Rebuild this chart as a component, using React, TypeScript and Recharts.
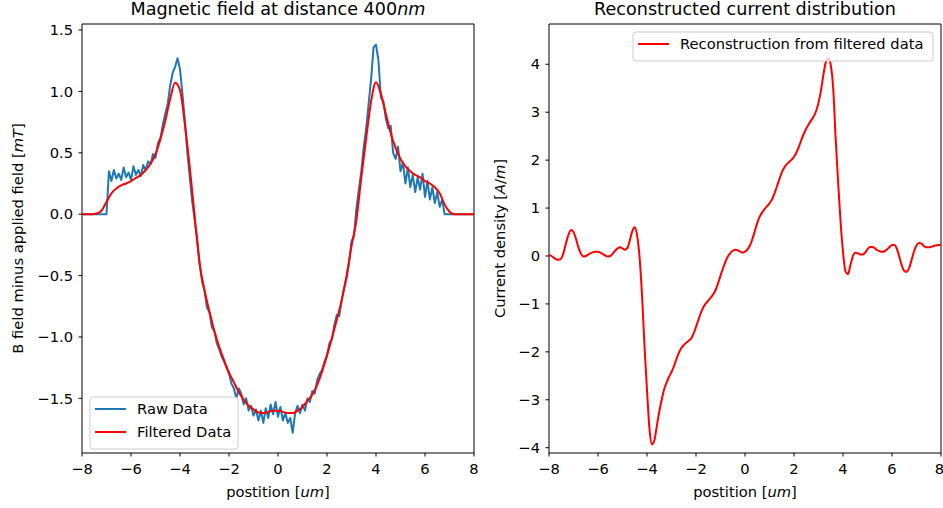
import React from "react";
import { LineChart, Line, XAxis, YAxis, ReferenceArea } from "recharts";

// Field profile and reconstructed current, both sampled on a -8..8 um grid

const FONT = "'DejaVu Sans', sans-serif";
const BLUE = "#1f77b4";
const RED = "#ff0000";
const FS = 14.7;

// raw field, 0.1 um step from -8
const rawField = [
  0, 0, 0, 0, 0, 0, 0, 0, 0, 0,
  0, 0.35, 0.27, 0.36, 0.29, 0.33, 0.28, 0.38, 0.3, 0.34,
  0.28, 0.39, 0.32, 0.36, 0.31, 0.4, 0.36, 0.43, 0.41, 0.49,
  0.46, 0.58, 0.62, 0.73, 0.82, 0.9, 1.05, 1.15, 1.2, 1.27,
  1.18, 0.98, 0.76, 0.5, 0.3, 0.1, -0.05, -0.2, -0.4, -0.55,
  -0.62, -0.76, -0.8, -0.92, -0.95, -1.05, -1.1, -1.16, -1.2, -1.25,
  -1.3, -1.38, -1.42, -1.5, -1.42, -1.46, -1.55, -1.5, -1.6, -1.56,
  -1.64, -1.59, -1.68, -1.6, -1.7, -1.58, -1.66, -1.55, -1.63, -1.53,
  -1.65, -1.57, -1.68, -1.62, -1.7, -1.66, -1.78, -1.62, -1.56, -1.62,
  -1.55, -1.6, -1.5, -1.53, -1.44, -1.46, -1.35, -1.3, -1.27, -1.2,
  -1.15, -1.05, -1.02, -0.9, -0.82, -0.83, -0.7, -0.6, -0.52, -0.4,
  -0.22, -0.18, 0.05, 0.2, 0.35, 0.55, 0.7, 0.9, 1.1, 1.36,
  1.38, 1.25, 0.95, 0.92, 0.78, 0.7, 0.72, 0.5, 0.45, 0.55,
  0.35, 0.42, 0.25, 0.38, 0.22, 0.32, 0.18, 0.3, 0.2, 0.33,
  0.14, 0.27, 0.12, 0.22, 0.09, 0.18, 0.06, 0.12, 0, 0,
  0, 0, 0, 0, 0, 0, 0, 0, 0, 0,
  0,
];

// filtered field, 0.2 um step from -8
const filteredField = [
  0, 0, 0, 0.005, 0.03, 0.1, 0.17, 0.21, 0.235, 0.25,
  0.27, 0.295, 0.32, 0.36, 0.41, 0.49, 0.61, 0.76, 0.94, 1.07,
  1.01, 0.73, 0.38, -0.02, -0.4, -0.62, -0.79, -0.95, -1.08, -1.19,
  -1.29, -1.37, -1.45, -1.51, -1.56, -1.59, -1.615, -1.62, -1.61, -1.6,
  -1.6, -1.61, -1.62, -1.62, -1.6, -1.57, -1.52, -1.47, -1.39, -1.28,
  -1.15, -1.01, -0.86, -0.7, -0.5, -0.26, -0.05, 0.3, 0.62, 0.92,
  1.075, 0.98, 0.82, 0.66, 0.54, 0.45, 0.39, 0.35, 0.32, 0.3,
  0.27, 0.25, 0.22, 0.17, 0.08, 0.02, 0, 0, 0, 0,
  0,
];

// reconstructed current density, 0.1 um step from -8
const currentDensity = [
  0.02, 0, -0.04, -0.07, -0.08, -0.05, 0.08, 0.28, 0.45, 0.54,
  0.5, 0.36, 0.18, 0.05, -0.01, 0, 0.03, 0.06, 0.08, 0.09,
  0.09, 0.07, 0.04, 0.01, -0.01, 0, 0.05, 0.11, 0.16, 0.18,
  0.16, 0.13, 0.17, 0.33, 0.52, 0.6, 0.42, -0.05, -0.85, -1.9,
  -2.8, -3.6, -3.93, -3.85, -3.55, -3.25, -3.0, -2.78, -2.64, -2.52,
  -2.42, -2.3, -2.15, -2.02, -1.92, -1.86, -1.81, -1.77, -1.72, -1.62,
  -1.48, -1.33, -1.18, -1.07, -0.99, -0.93, -0.87, -0.8, -0.71, -0.57,
  -0.41, -0.26, -0.12, -0.01, 0.06, 0.11, 0.13, 0.12, 0.09, 0.07,
  0.09, 0.14, 0.22, 0.35, 0.52, 0.69, 0.82, 0.91, 0.98, 1.04,
  1.1, 1.18, 1.3, 1.45, 1.6, 1.74, 1.84, 1.91, 1.96, 2.01,
  2.07, 2.16, 2.28, 2.42, 2.55, 2.66, 2.75, 2.83, 2.91, 3.02,
  3.2, 3.45, 3.78, 4.05, 4.13, 3.98, 3.5, 2.45, 1.55, 0.72,
  0.08, -0.32, -0.38, -0.2, -0.01, 0.07, 0.06, 0.03, 0.03, 0.07,
  0.14, 0.19, 0.19, 0.16, 0.12, 0.1, 0.09, 0.1, 0.14, 0.19,
  0.23, 0.23, 0.15, -0.02, -0.2, -0.31, -0.33, -0.25, -0.08, 0.1,
  0.22, 0.27, 0.26, 0.21, 0.18, 0.18, 0.19, 0.21, 0.22, 0.23,
  0.23,
];

const xTicks = [-8, -6, -4, -2, 0, 2, 4, 6, 8];
const fieldTicks = [-1.5, -1, -0.5, 0, 0.5, 1, 1.5];
const currentTicks = [-4, -3, -2, -1, 0, 1, 2, 3, 4];

const fieldDomain: [number, number] = [-1.945, 1.549];
const currentDomain: [number, number] = [-4.11, 4.84];

function onGrid(values: number[], step: number) {
  return values.map((y, i) => ({ x: -8 + i * step, y }));
}

const rawRows = onGrid(rawField, 0.1);
const filteredRows = onGrid(filteredField, 0.2);
const currentRows = onGrid(currentDensity, 0.1);

const minus = (s: string) => s.replace("-", "\u2212");
const fmt1 = (v: number) => minus(v.toFixed(1));
const fmt0 = (v: number) => minus(String(v));

const tickStyle = { fill: "#000", fontSize: FS, fontFamily: FONT };
const tickLine = { stroke: "#000", strokeWidth: 1 };

function Legend({ x, y, w, items }: { x: number; y: number; w: number; items: { label: string; color: string }[] }) {
  const h = 6 + items.length * 23;
  return (
    <g>
      <rect x={x} y={y} width={w} height={h} rx={3} fill="#fff" fillOpacity={0.8} stroke="#cccccc" strokeWidth={1} />
      {items.map((it, i) => (
        <g key={it.label}>
          <line x1={x + 5} x2={x + 36} y1={y + 12 + i * 23} y2={y + 12 + i * 23} stroke={it.color} strokeWidth={2} />
          <text x={x + 47} y={y + 17 + i * 23} fontSize={FS} fontFamily={FONT} fill="#000">
            {it.label}
          </text>
        </g>
      ))}
    </g>
  );
}

export default function App() {
  return (
    <div style={{ position: "absolute", left: 0, top: 0, width: 943, height: 508, background: "#fff", fontFamily: FONT }}>
      <div style={{ position: "absolute", left: 0, top: 0 }}>
        <LineChart width={480} height={508} margin={{ top: 24, right: 6, bottom: 0, left: 0 }}>
          <XAxis
            type="number"
            dataKey="x"
            domain={[-8, 8]}
            ticks={xTicks}
            tickFormatter={fmt0}
            height={55}
            tickSize={3.5}
            tickMargin={7}
            axisLine={false}
            tickLine={tickLine}
            tick={tickStyle}
            allowDataOverflow
          />
          <YAxis
            type="number"
            domain={fieldDomain}
            ticks={fieldTicks}
            tickFormatter={fmt1}
            width={82}
            tickSize={3.5}
            tickMargin={5.5}
            axisLine={false}
            tickLine={tickLine}
            tick={tickStyle}
            allowDataOverflow
          />
          <ReferenceArea x1={-8} x2={8} y1={fieldDomain[0]} y2={fieldDomain[1]} fill="none" stroke="#000" strokeWidth={1} />
          <Line data={rawRows} dataKey="y" type="linear" stroke={BLUE} strokeWidth={2} dot={false} isAnimationActive={false} strokeLinejoin="round" />
          <Line data={filteredRows} dataKey="y" type="monotone" stroke={RED} strokeWidth={2} dot={false} isAnimationActive={false} />
        </LineChart>
      </div>
      <div style={{ position: "absolute", left: 480, top: 0 }}>
        <LineChart width={463} height={508} margin={{ top: 24, right: 2, bottom: 0, left: 0 }}>
          <XAxis
            type="number"
            dataKey="x"
            domain={[-8, 8]}
            ticks={xTicks}
            tickFormatter={fmt0}
            height={55}
            tickSize={3.5}
            tickMargin={7}
            axisLine={false}
            tickLine={tickLine}
            tick={tickStyle}
            allowDataOverflow
          />
          <YAxis
            type="number"
            domain={currentDomain}
            ticks={currentTicks}
            tickFormatter={fmt0}
            width={69}
            tickSize={3.5}
            tickMargin={5.5}
            axisLine={false}
            tickLine={tickLine}
            tick={tickStyle}
            allowDataOverflow
          />
          <ReferenceArea x1={-8} x2={8} y1={currentDomain[0]} y2={currentDomain[1]} fill="none" stroke="#000" strokeWidth={1} />
          <Line data={currentRows} dataKey="y" type="monotone" stroke={RED} strokeWidth={2} dot={false} isAnimationActive={false} />
        </LineChart>
      </div>
      <svg width={943} height={508} style={{ position: "absolute", left: 0, top: 0, pointerEvents: "none" }}>
        <g fontFamily={FONT} fill="#000">
          <text x={278} y={15} fontSize={17.6} textAnchor="middle">
            Magnetic field at distance 400<tspan fontStyle="italic">nm</tspan>
          </text>
          <text x={745} y={15} fontSize={17.6} textAnchor="middle">
            Reconstructed current distribution
          </text>
          <text x={278} y={497} fontSize={FS} textAnchor="middle">
            postition [<tspan fontStyle="italic">um</tspan>]
          </text>
          <text x={745} y={497} fontSize={FS} textAnchor="middle">
            postition [<tspan fontStyle="italic">um</tspan>]
          </text>
          <text x={23} y={238.5} fontSize={FS} textAnchor="middle" transform="rotate(-90 23 238.5)">
            B field minus applied field [<tspan fontStyle="italic">mT</tspan>]
          </text>
          <text x={505} y={238.5} fontSize={FS} textAnchor="middle" transform="rotate(-90 505 238.5)">
            Current density [<tspan fontStyle="italic">A</tspan>/<tspan fontStyle="italic">m</tspan>]
          </text>
        </g>
        <Legend
          x={90}
          y={397}
          w={148}
          items={[
            { label: "Raw Data", color: BLUE },
            { label: "Filtered Data", color: RED },
          ]}
        />
        <Legend x={633} y={32} w={300} items={[{ label: "Reconstruction from filtered data", color: RED }]} />
      </svg>
    </div>
  );
}
